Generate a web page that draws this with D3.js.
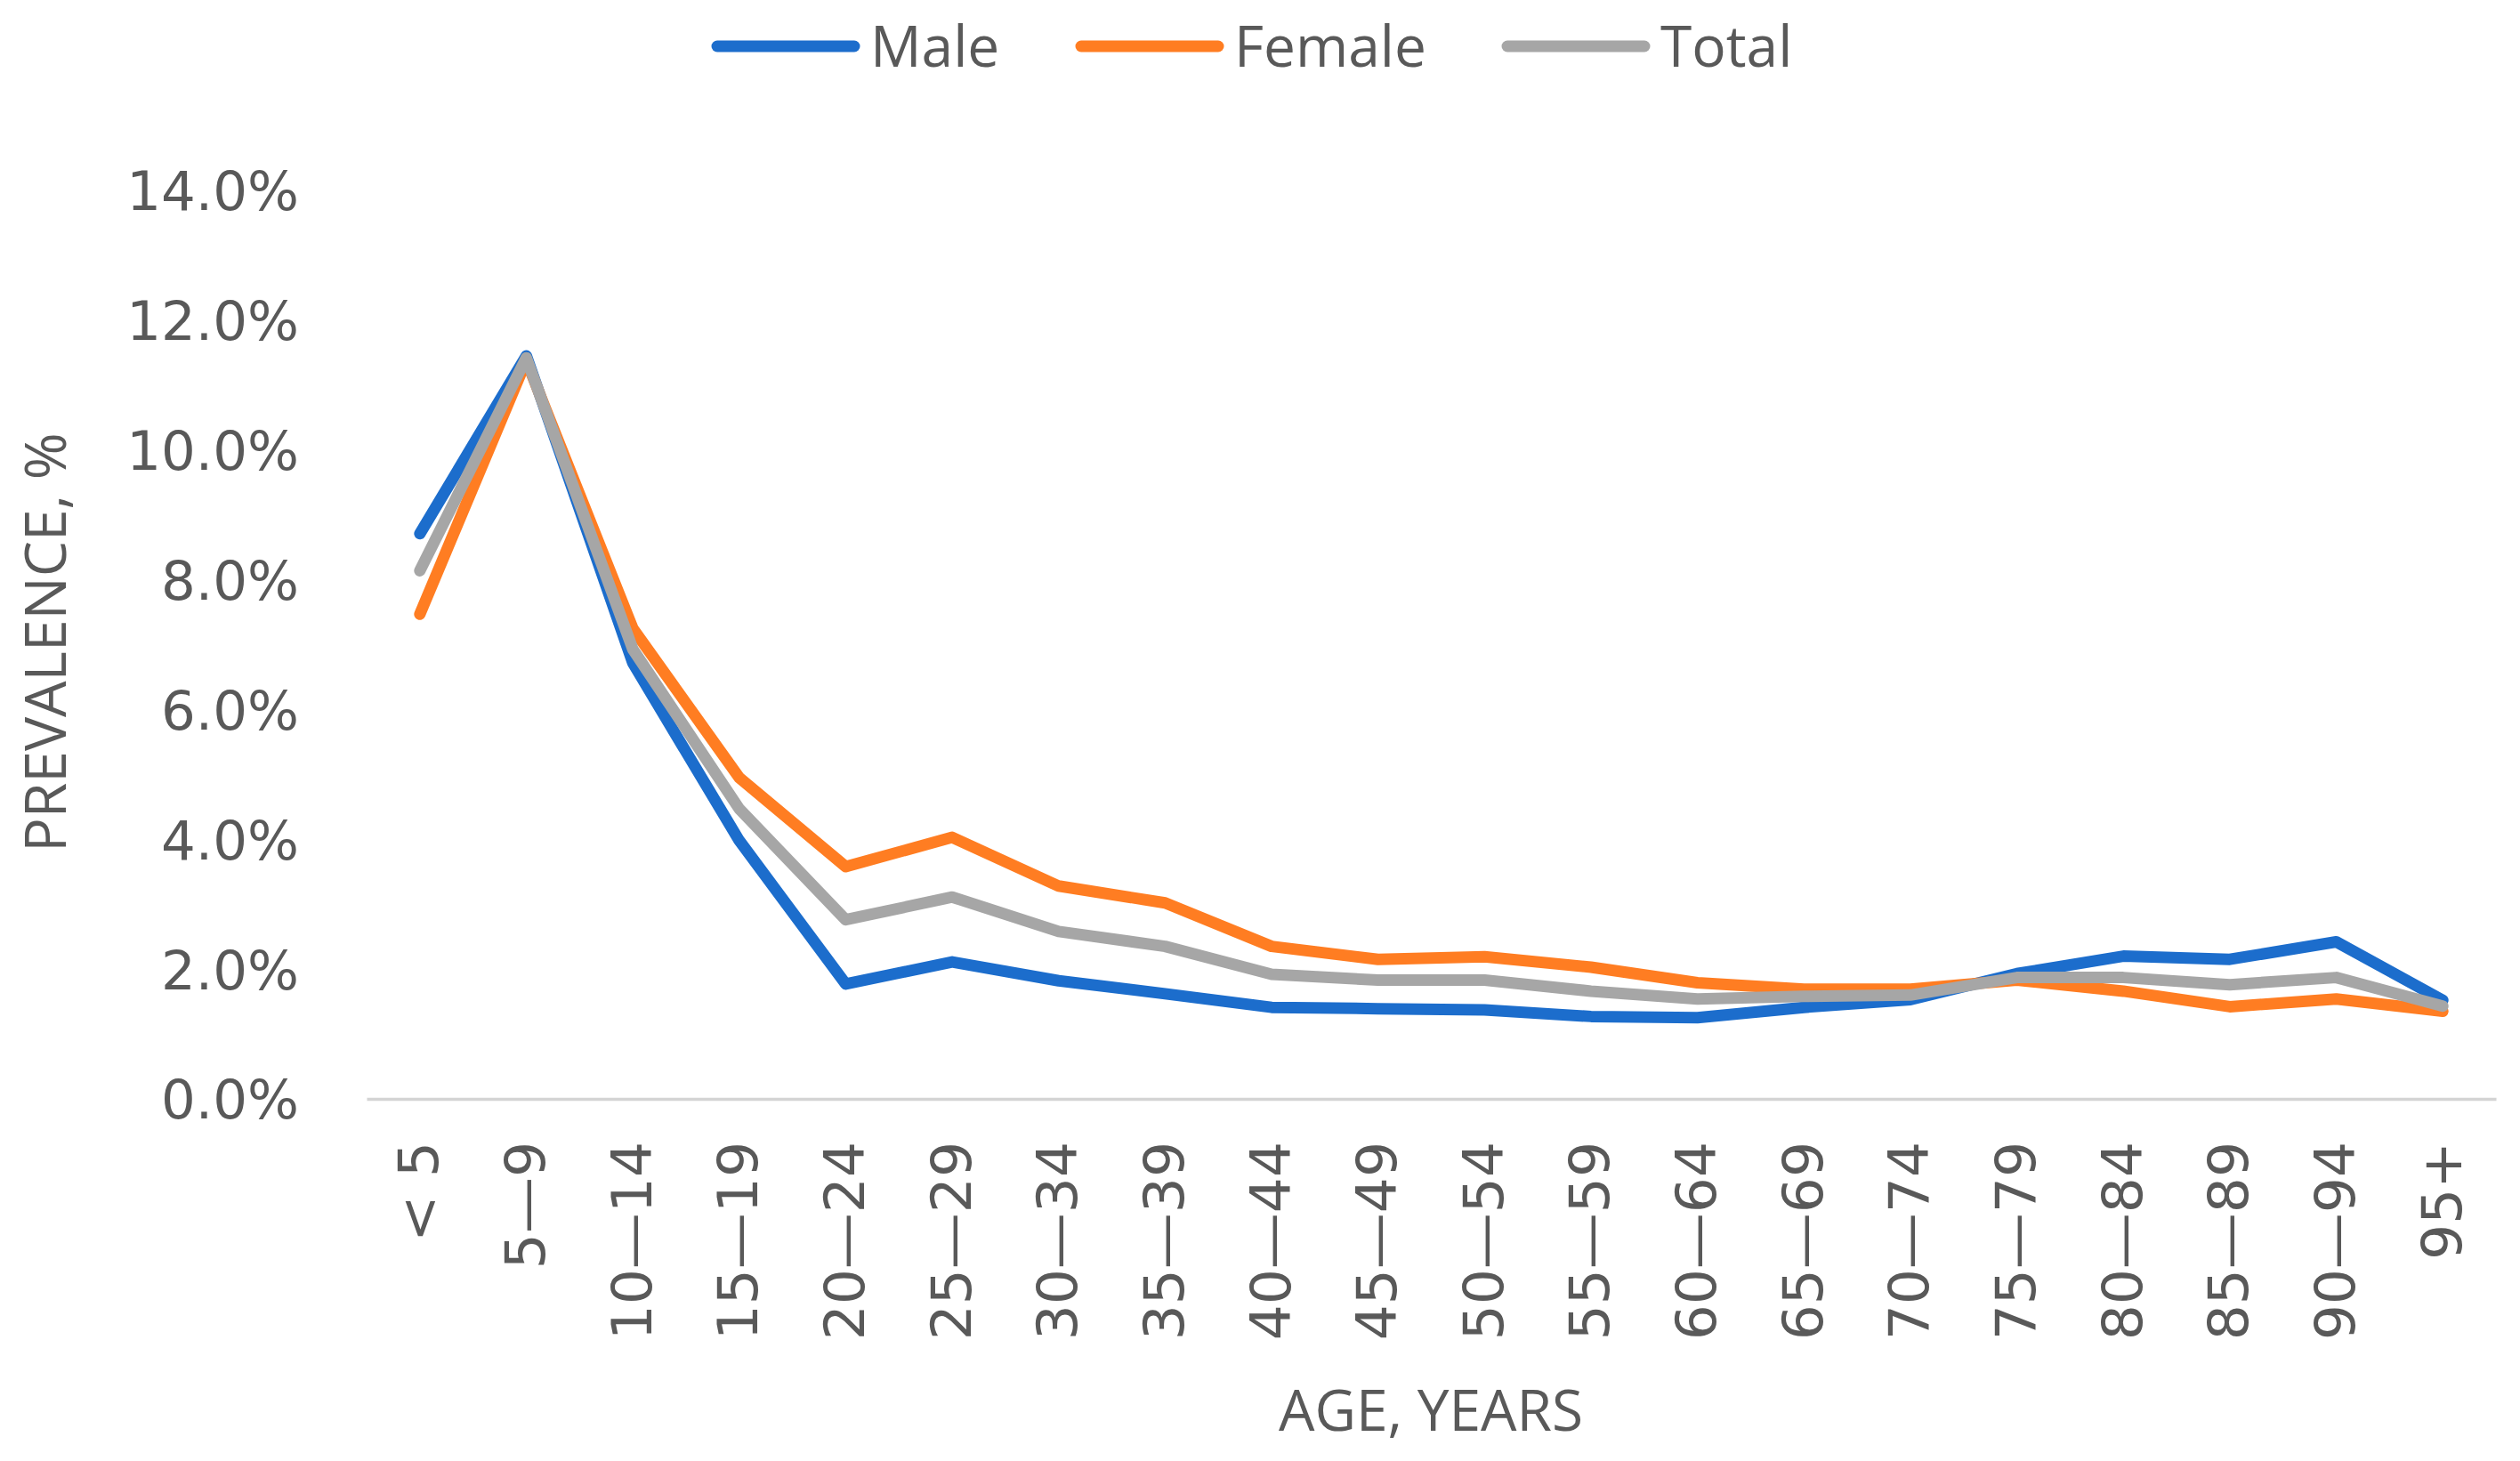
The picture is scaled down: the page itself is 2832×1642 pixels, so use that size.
<!DOCTYPE html>
<html>
<head>
<meta charset="utf-8">
<script src="https://cdn.jsdelivr.net/npm/d3@7"></script>
<style>
  html, body { margin: 0; padding: 0; background: #ffffff; }
  svg { display: block; }
</style>
</head>
<body>
<svg id="chart" width="2832" height="1642"></svg>
<script>
const categories = ["< 5", "5\u20149", "10\u201414", "15\u201419", "20\u201424", "25\u201429", "30\u201434", "35\u201439", "40\u201444", "45\u201449", "50\u201454", "55\u201459", "60\u201464", "65\u201469", "70\u201474", "75\u201479", "80\u201484", "85\u201489", "90\u201494", "95+"];
const male   = [8.71, 11.45, 6.72, 3.98, 1.77, 2.11, 1.82, 1.62, 1.41, 1.39, 1.37, 1.27, 1.25, 1.41, 1.53, 1.93, 2.20, 2.15, 2.42, 1.52];
const female = [7.47, 11.38, 7.25, 4.95, 3.58, 4.03, 3.28, 3.02, 2.35, 2.15, 2.19, 2.03, 1.79, 1.69, 1.69, 1.83, 1.66, 1.42, 1.54, 1.35];
const total  = [8.14, 11.42, 6.93, 4.47, 2.76, 3.11, 2.58, 2.35, 1.92, 1.83, 1.83, 1.66, 1.54, 1.58, 1.60, 1.87, 1.87, 1.76, 1.87, 1.43];
const yTicks = [0, 2, 4, 6, 8, 10, 12, 14];
const seriesNames = ["Male", "Female", "Total"];
const seriesColors = ["#1c6dcc", "#ff7d22", "#a6a6a6"];

const series = [
  { name: seriesNames[0], values: male,   color: seriesColors[0] },
  { name: seriesNames[1], values: female, color: seriesColors[1] },
  { name: seriesNames[2], values: total,  color: seriesColors[2] }
];

const svg = d3.select("#chart");
const x = d3.scaleBand().domain(categories).range([412, 2805]).padding(0);
const y = d3.scaleLinear().domain([0, 14]).range([1235, 214]);
const textColor = "#595959";

// Y axis labels
const yAxis = d3.axisLeft(y).tickValues(yTicks).tickSize(0).tickPadding(0)
  .tickFormat(d => d.toFixed(1) + "%");
const gy = svg.append("g").attr("transform", "translate(336,0)").call(yAxis);
gy.select(".domain").remove();
gy.attr("font-family", null).attr("font-size", null);
gy.selectAll("text")
  .style("font-family", "'DejaVu Sans'")
  .style("font-size", "61px")
  .attr("fill", textColor)
  .attr("dy", "0.36em");

// X axis line
const xAxis = d3.axisBottom(x).tickSize(0).tickPadding(0);
const gx = svg.append("g").attr("transform", "translate(0,1235)").call(xAxis);
gx.attr("font-family", null).attr("font-size", null);
gx.select(".domain").attr("stroke", "#d4d4d4").attr("stroke-width", 3.5);
gx.selectAll(".tick text")
  .style("font-family", "'DejaVu Sans'")
  .style("font-size", "63px")
  .attr("fill", textColor)
  .attr("text-anchor", "end")
  .attr("dy", null)
  .attr("y", 0)
  .attr("dominant-baseline", "central")
  .attr("transform", "translate(-1,48) rotate(-90)");

// Lines
const line = d3.line()
  .x((d, i) => x(categories[i]) + x.bandwidth() / 2)
  .y(d => y(d));

svg.append("g").selectAll("path")
  .data(series)
  .join("path")
  .attr("d", d => line(d.values))
  .attr("fill", "none")
  .attr("stroke", d => d.color)
  .attr("stroke-width", 13)
  .attr("stroke-linecap", "round")
  .attr("stroke-linejoin", "round");

// Axis titles
svg.append("text")
  .attr("x", 1608).attr("y", 1608)
  .attr("text-anchor", "middle")
  .style("font-family", "'Open Sans'")
  .style("font-size", "64px")
  .attr("fill", textColor)
  .text("AGE, YEARS");

svg.append("text")
  .attr("transform", "translate(74,722) rotate(-90)")
  .attr("text-anchor", "middle")
  .style("font-family", "'Open Sans'")
  .style("font-size", "64px")
  .attr("fill", textColor)
  .text("PREVALENCE, %");

// Legend
const legendX = [800, 1209, 1688];
const legend = svg.append("g").selectAll("g")
  .data(series)
  .join("g")
  .attr("transform", (d, i) => `translate(${legendX[i]},52)`);
legend.append("line")
  .attr("x1", 6).attr("x2", 160).attr("y1", 0).attr("y2", 0)
  .attr("stroke", d => d.color)
  .attr("stroke-width", 13)
  .attr("stroke-linecap", "round");
legend.append("text")
  .attr("x", 178).attr("y", 23)
  .style("font-family", "'Open Sans'")
  .style("font-size", "64px")
  .attr("fill", textColor)
  .text(d => d.name);
</script>
</body>
</html>
